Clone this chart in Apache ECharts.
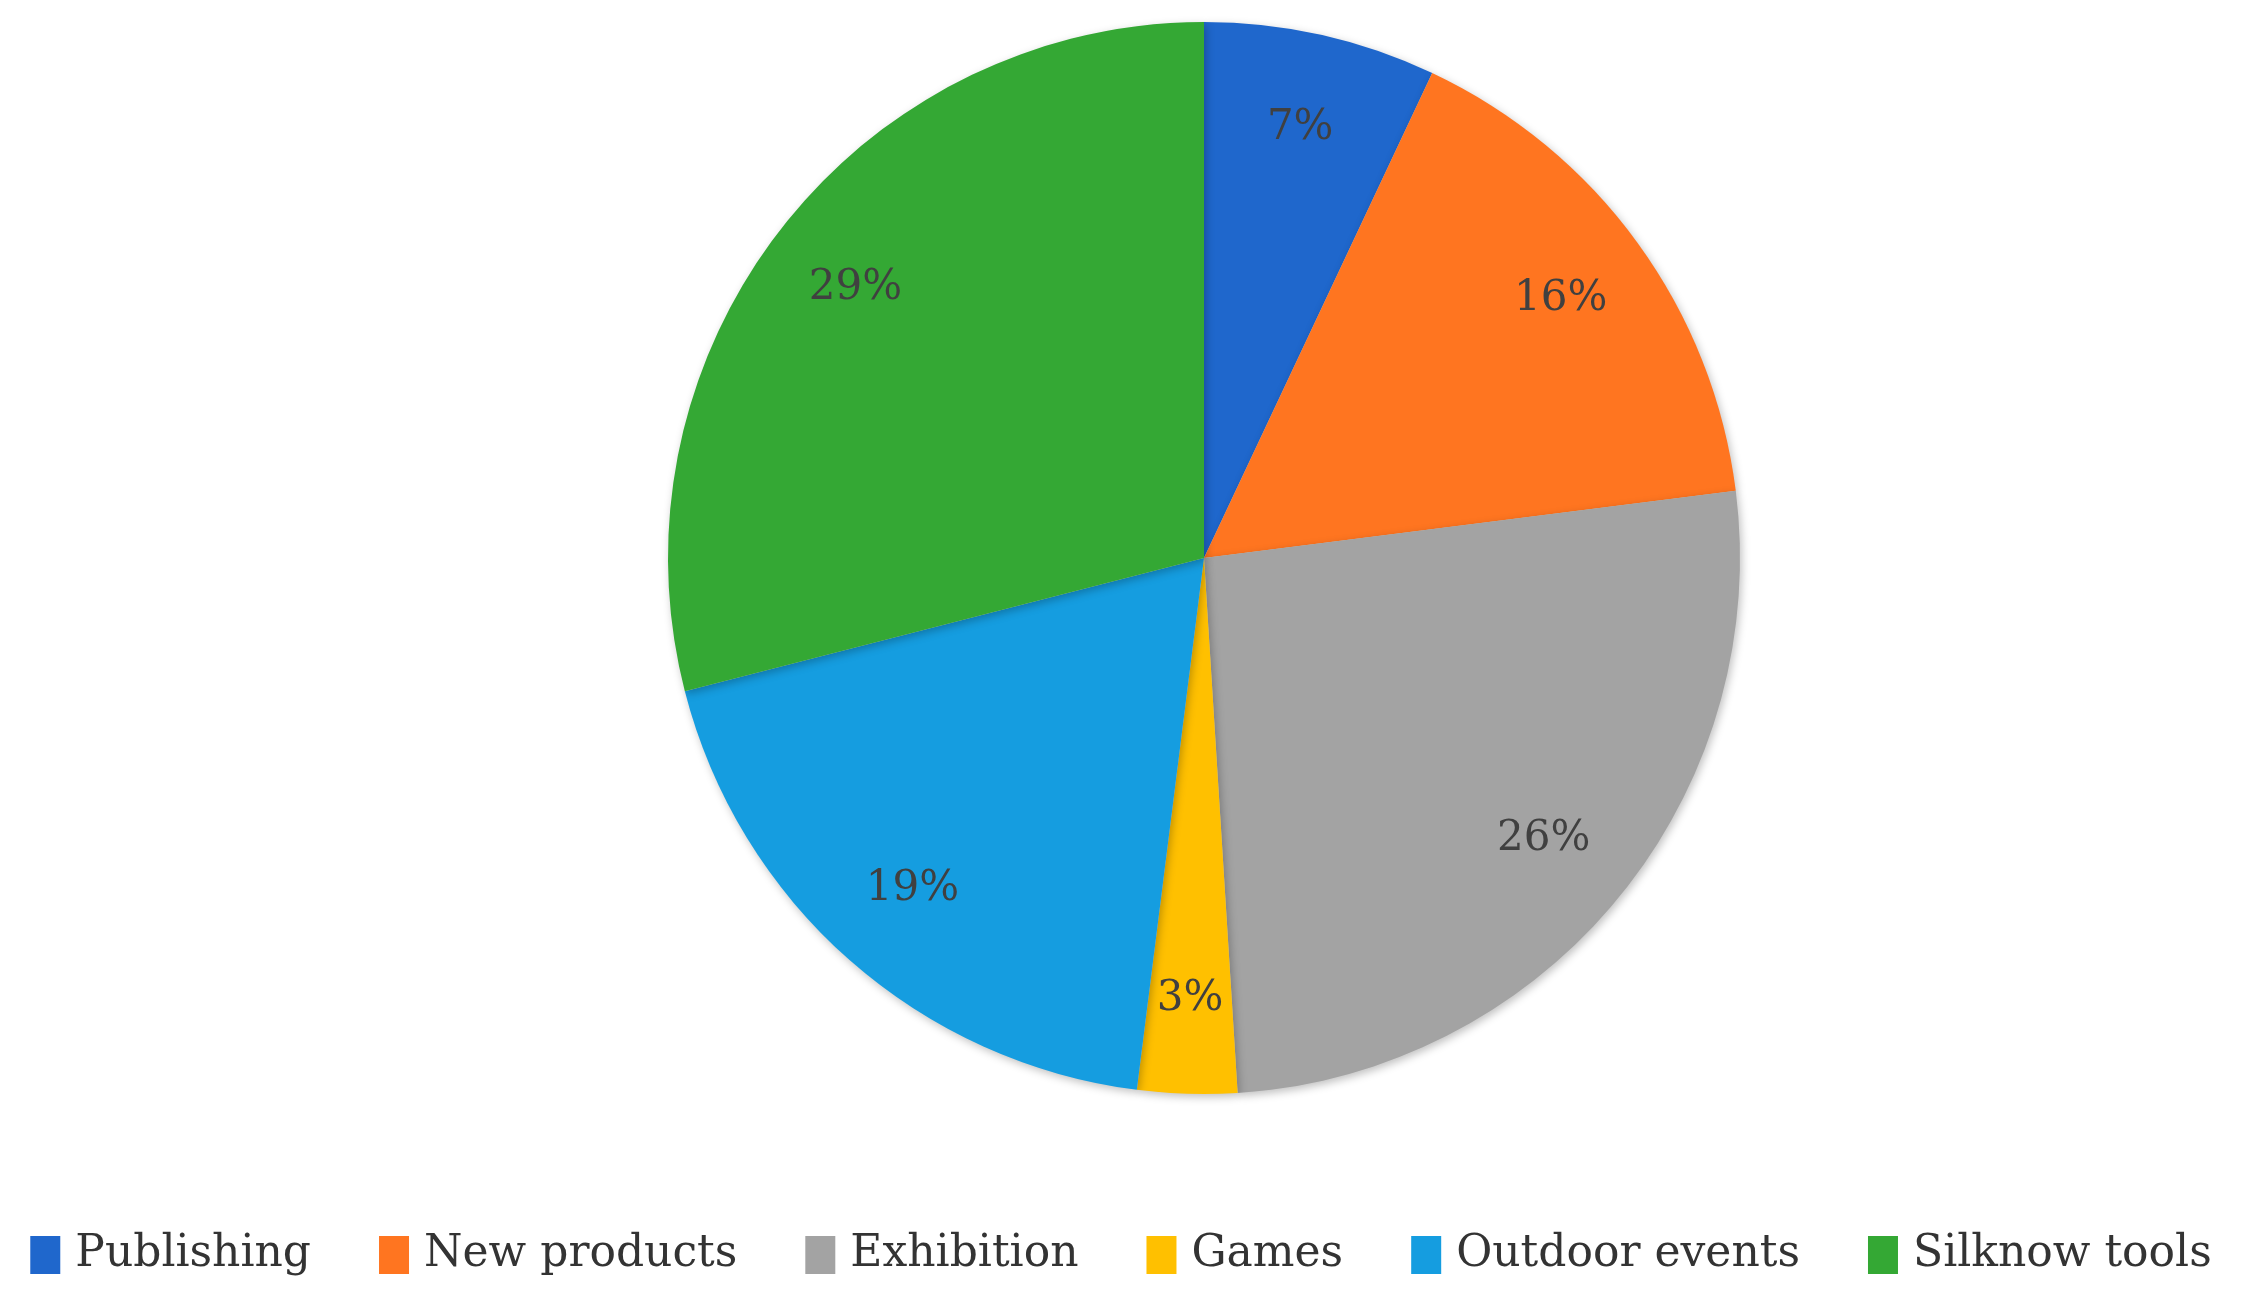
<!DOCTYPE html>
<html>
<head>
<meta charset="utf-8">
<script src="https://cdn.jsdelivr.net/npm/echarts@6/dist/echarts.min.js"></script>
<style>html,body{margin:0;background:#fff}#chart{width:2242px;height:1304px}</style>
</head>
<body>
<div id="chart"></div>
<script>
var categories = ['Publishing', 'New products', 'Exhibition', 'Games', 'Outdoor events', 'Silknow tools'];
var values = [7, 16, 26, 3, 19, 29];
var colors = ['#1f67cc', '#ff7520', '#a3a3a3', '#ffc000', '#159de0', '#34a834'];

var data = categories.map(function (c, i) {
	return { name: c, value: values[i] };
});

var chart = echarts.init(document.getElementById('chart'));
var font = '"DejaVu Serif", "Liberation Serif", serif';

chart.setOption({
	color: colors,
	legend: {
		data: categories,
		bottom: 22,
		left: 'center',
		icon: 'rect',
		itemWidth: 30,
		itemHeight: 38,
		itemGap: 68,
		textStyle: { fontFamily: font, fontSize: 44, color: '#333', padding: [0, 0, 0, 10] }
	},
	series: [
		{
			// the coloured pie
			type: 'pie',
			center: [1204, 558],
			radius: [0, 536],
			startAngle: 90,
			label: { show: false },
			labelLine: { show: false },
			itemStyle: { shadowBlur: 8, shadowColor: 'rgba(0,0,0,0.25)', shadowOffsetX: 2, shadowOffsetY: 3 },
			emphasis: { disabled: true },
			data: data
		},
		{
			// transparent ring carrying the % labels near the rim
			type: 'pie',
			center: [1204, 558],
			radius: [340, 536],
			startAngle: 90,
			silent: true,
			itemStyle: { color: 'rgba(0,0,0,0)' },
			label: {
				show: true,
				position: 'inside',
				formatter: '{c}%',
				fontFamily: font,
				fontSize: 42,
				color: '#404040'
			},
			labelLine: { show: false },
			data: data
		}
	]
});
</script>
</body>
</html>
